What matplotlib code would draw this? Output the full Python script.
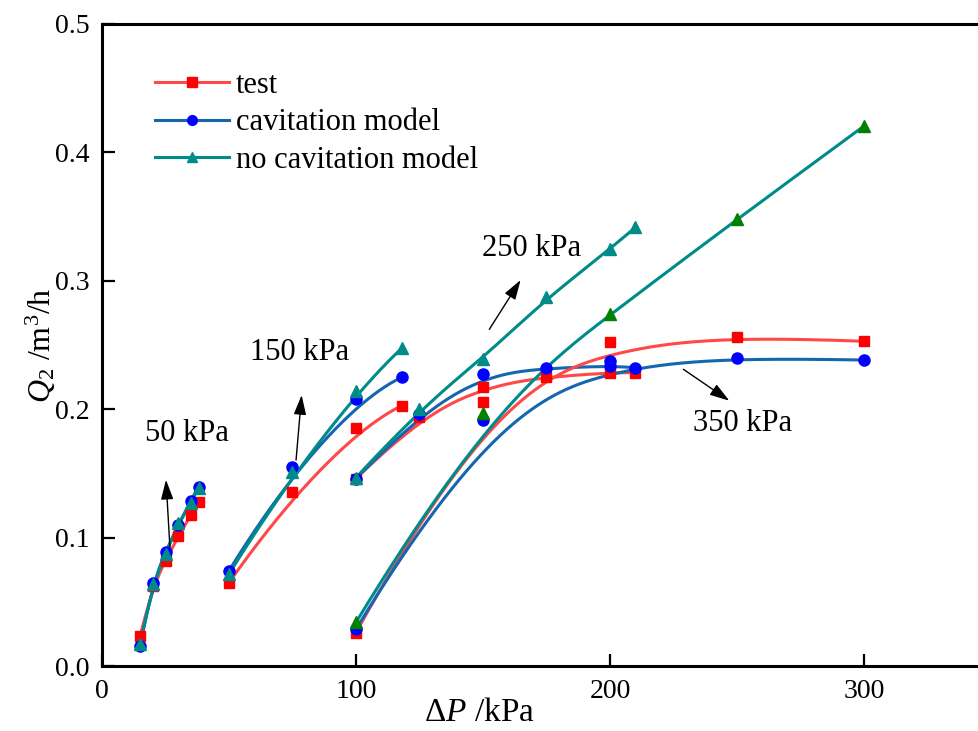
import numpy as np
import matplotlib
matplotlib.use("Agg")
import matplotlib.pyplot as plt
from matplotlib.lines import Line2D

plt.rcParams['font.family'] = ['Liberation Serif', 'DejaVu Serif']
plt.rcParams['mathtext.fontset'] = 'custom'
plt.rcParams['mathtext.rm'] = 'Liberation Serif'
plt.rcParams['mathtext.it'] = 'Liberation Serif:italic'

# ---- data ----
x50 = [15, 20, 25, 30, 35, 38]
test50 = [0.0236, 0.062, 0.082, 0.101, 0.1176, 0.1275]
cav50 = [0.0158, 0.065, 0.0885, 0.110, 0.1288, 0.1397]
nocav50 = [0.017, 0.064, 0.087, 0.111, 0.1267, 0.139]

x150 = [50, 75, 100, 118]
test150 = [0.0649, 0.1355, 0.1856, 0.2027]
cav150 = [0.0742, 0.1547, 0.2082, 0.2248]
nocav150 = [0.0717, 0.1513, 0.2142, 0.2474]

x250 = [100, 125, 150, 175, 200, 210]
test250 = [0.146, 0.194, 0.2176, 0.2253, 0.2285, 0.2285]
cav250 = [0.146, 0.1963, 0.2272, 0.2318, 0.234, 0.2323]
nocav250 = [0.1467, 0.2002, 0.239, 0.2871, 0.3245, 0.3416]

x350 = [100, 150, 200, 250, 300]
test350 = [0.026, 0.2054, 0.2526, 0.2565, 0.2529]
cav350 = [0.0286, 0.1916, 0.2378, 0.2399, 0.2383]
nocav350 = [0.034, 0.1968, 0.2741, 0.3479, 0.4205]

labels = ['test', 'cavitation model', 'no cavitation model']
annot_text = ['50 kPa', '150 kPa', '250 kPa', '350 kPa']
annot_xy = [(17, 0.181), (58.3, 0.2445), (149.5, 0.3255), (232.8, 0.189)]
arrow_tail = [(26.8, 0.0903), (76.4, 0.1604), (152.5, 0.2622), (228.9, 0.2311)]
arrow_head = [(25.2, 0.145), (78.6, 0.211), (164.8, 0.3006), (247, 0.2066)]


def bspline(xs, ys, n=300):
    P = np.column_stack([xs, ys]).astype(float)
    m = len(P)
    k = min(3, m - 1)
    inner = np.linspace(0, 1, m - k + 1)[1:-1]
    t = np.concatenate([np.zeros(k + 1), inner, np.ones(k + 1)])
    u = np.linspace(0, 1, n)
    u[-1] = 1 - 1e-12
    N = np.zeros((n, len(t) - 1))
    for i in range(len(t) - 1):
        N[:, i] = ((t[i] <= u) & (u < t[i + 1])).astype(float)
    for d in range(1, k + 1):
        Nn = np.zeros((n, len(t) - 1 - d))
        for i in range(len(t) - 1 - d):
            den1 = t[i + d] - t[i]
            den2 = t[i + d + 1] - t[i + 1]
            term = np.zeros(n)
            if den1 > 0:
                term += (u - t[i]) / den1 * N[:, i]
            if den2 > 0:
                term += (t[i + d + 1] - u) / den2 * N[:, i + 1]
            Nn[:, i] = term
        N = Nn
    C = N @ P
    return C[:, 0], C[:, 1]


red_line = '#FF4848'
blue_line = '#1466B0'
teal = '#008B8B'
green = '#008000'

fig = plt.figure(figsize=(9.79, 7.31), dpi=100)
ax = fig.add_axes([0.1042, 0.0889, 0.8958, 0.8783])

groups = [
    (x50, test50, cav50, nocav50, teal),
    (x150, test150, cav150, nocav150, teal),
    (x250, test250, cav250, nocav250, teal),
    (x350, test350, cav350, nocav350, green),
]
lw = 2.2
ms = 7
for xs, tst, cav, nc, tri_col in groups:
    bx, by = bspline(xs, tst)
    ax.plot(bx, by, color=red_line, lw=lw, zorder=2)
    bx, by = bspline(xs, cav)
    ax.plot(bx, by, color=blue_line, lw=lw, zorder=2)
    bx, by = bspline(xs, nc)
    ax.plot(bx, by, color=teal, lw=lw, zorder=2)
    ax.plot(xs, tst, ls='none', marker='s', ms=ms, color='#FF0000', mec='#FF0000', zorder=3)
    ax.plot(xs, cav, ls='none', marker='o', ms=ms + 1, color='#0000FF', mec='#0000FF', zorder=4)
    ax.plot(xs, nc, ls='none', marker='^', ms=ms + 1, color=tri_col, mec=tri_col, zorder=5)

for txt, xy, tail, head in zip(annot_text, annot_xy, arrow_tail, arrow_head):
    ax.text(xy[0], xy[1], txt, fontsize=22, ha='left', va='center')
    ax.annotate('', xy=head, xytext=tail,
                arrowprops=dict(arrowstyle='-|>,head_length=1.2,head_width=0.38',
                                color='black', lw=1.0, shrinkA=0, shrinkB=0))

handles = [
    Line2D([], [], color=red_line, lw=lw, marker='s', ms=ms, mfc='#FF0000', mec='#FF0000'),
    Line2D([], [], color=blue_line, lw=lw, marker='o', ms=ms, mfc='#0000FF', mec='#0000FF'),
    Line2D([], [], color=teal, lw=lw, marker='^', ms=ms, mfc=teal, mec=teal),
]
ax.legend(handles, labels, loc='upper left', bbox_to_anchor=(0.06, 0.927), frameon=False,
          fontsize=22, handlelength=2.45, handletextpad=0.2, labelspacing=0.28,
          borderaxespad=0, borderpad=0)

ax.set_xlim(0, 345.3)
ax.set_ylim(0, 0.5)
ax.set_xticks([0, 100, 200, 300])
ax.set_yticks([0.0, 0.1, 0.2, 0.3, 0.4, 0.5])
ax.set_yticklabels(['0.0', '0.1', '0.2', '0.3', '0.4', '0.5'])
ax.tick_params(direction='in', length=9, width=1.6, labelsize=20, pad=9)
for s in ['left', 'bottom', 'top']:
    ax.spines[s].set_linewidth(2.2)
ax.spines['right'].set_visible(False)
ax.set_xlabel(r'$\Delta P$ /kPa', fontsize=24, va='center')
ax.xaxis.set_label_coords(0.43, -0.073)
ax.set_ylabel(r'$Q_2$ /m$^3$/h', fontsize=23, labelpad=-2)

fig.savefig('out.png', dpi=100)
